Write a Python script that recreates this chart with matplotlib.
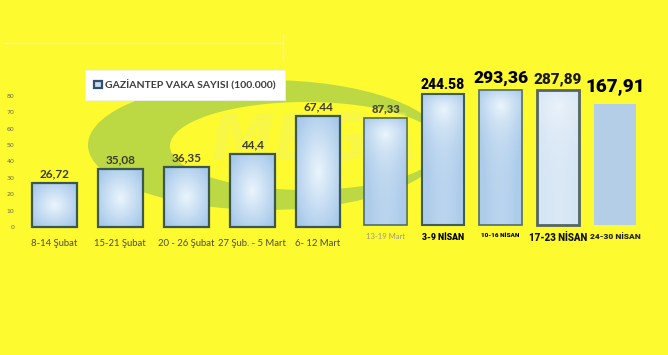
import numpy as np
import matplotlib.pyplot as plt
from matplotlib.patches import Ellipse
from matplotlib.lines import Line2D
from matplotlib import font_manager

# left part: the original excel chart (0-80 scale)
weeks_a = ['8-14 Şubat', '15-21 Şubat', '20 - 26 Şubat', '27 Şub. - 5 Mart', '6- 12 Mart']
cases_a = [26.72, 35.08, 36.35, 44.4, 67.44]
yticks_a = [0, 10, 20, 30, 40, 50, 60, 70, 80]

# right part: columns pasted on afterwards
weeks_b = ['13-19 Mart', '3-9 NİSAN', '10-16 NİSAN', '17-23 NİSAN', '24-30 NİSAN']
cases_b = [87.33, 244.58, 293.36, 287.89, 167.91]
sep_b = [',', '.', ',', ',', ',']

legend_label = 'GAZİANTEP VAKA SAYISI (100.000)'

YELLOW = '#fefa30'


def have(name):
    try:
        font_manager.findfont(name, fallback_to_default=False)
        return True
    except Exception:
        return False


heavy = 'Roboto' if have('Roboto') else 'DejaVu Sans'
body = 'Lato' if have('Lato') else 'DejaVu Sans'


def fmt(v, sep=','):
    return ('%g' % v).replace('.', sep)


def gradient_fill(ax, bars, c_mid, c_edge, z=2.5):
    yy, xx = np.mgrid[-1:1:60j, -1:1:40j]
    r = np.clip(np.sqrt(xx**2 + yy**2) / 1.25, 0, 1)[..., None]
    img = np.array(c_mid)[None, None, :] * (1 - r) + np.array(c_edge)[None, None, :] * r
    for b in bars:
        x0, y0 = b.get_xy()
        im = ax.imshow(img, extent=[x0, x0 + b.get_width(), y0, y0 + b.get_height()],
                       aspect='auto', zorder=z, interpolation='bilinear')
        im.set_clip_path(b)


fig = plt.figure(figsize=(6.68, 3.55), dpi=100)
fig.set_facecolor(YELLOW)

# watermark swoosh + faded logo text
W, H = 668., 355.
def fx(px): return px / W
def fy(py): return 1 - py / H

outer = Ellipse((fx(266), fy(145)), fx(356), 130 / H, facecolor='#bcd944', edgecolor='none',
                transform=fig.transFigure, zorder=0)
inner = Ellipse((fx(306), fy(146)), fx(272), 88 / H, facecolor=YELLOW, edgecolor='none',
                transform=fig.transFigure, zorder=0.1)
fig.add_artist(outer)
fig.add_artist(inner)
fig.text(fx(315), fy(142), 'MEGA', fontsize=46, fontweight='bold', fontstyle='italic',
         color='#f2f468', alpha=0.4, ha='center', va='center', zorder=0.2)

# faint border of the pasted excel screenshot
fig.add_artist(Line2D([fx(5), fx(282)], [fy(43), fy(43)], color='#f4f49a', lw=1,
                      transform=fig.transFigure, zorder=0.3))
fig.add_artist(Line2D([fx(283), fx(283)], [fy(34), fy(60)], color='#f4f49a', lw=1,
                      transform=fig.transFigure, zorder=0.3))

# ---- left axes
ax1 = fig.add_axes([21.5 / W, 1 - 227 / H, 329.5 / W, 131.3 / H])
ax1.set_zorder(2)
ax1.patch.set_alpha(0)
xa = np.arange(len(cases_a))
bars_a = ax1.bar(xa, cases_a, width=0.68, facecolor='none', edgecolor='#3a5850',
                 linewidth=1.6, zorder=3, clip_on=False, label=legend_label)
gradient_fill(ax1, bars_a, (0.92, 0.96, 0.99), (0.66, 0.79, 0.92))
for x, v in zip(xa, cases_a):
    ax1.annotate(fmt(v), (x, v), xytext=(0, 3), textcoords='offset points', ha='center',
                 va='bottom', fontsize=8.5, fontweight='bold', color='#3c3c2a', family=body)
ax1.set_xlim(-0.5, len(cases_a) - 0.5)
ax1.set_ylim(0, 80)
ax1.set_yticks(yticks_a)
ax1.set_yticklabels([str(t) for t in yticks_a], fontsize=4.5, color='#6a6a50')
ax1.set_xticks(xa)
ax1.set_xticklabels(weeks_a, fontsize=6.8, color='#4c4c3a', family=body)
ax1.tick_params(length=0)
ax1.tick_params(axis='x', pad=9)
ax1.tick_params(axis='y', pad=5)
for s in ax1.spines.values():
    s.set_visible(False)

leg = ax1.legend(loc='center', bbox_to_anchor=(fx(185), fy(85)), bbox_transform=fig.transFigure,
                 fancybox=False, framealpha=1, edgecolor='#eeeeee', handlelength=0.7,
                 handleheight=0.7, handletextpad=0.3, borderpad=0.9,
                 prop={'family': body, 'size': 7.5, 'weight': 'bold'})
leg.get_frame().set_linewidth(0.6)
for t in leg.get_texts():
    t.set_color('#3c3c3c')
leg.legend_handles[0].set_facecolor('#c8dcf0')
leg.legend_handles[0].set_edgecolor('#33506a')

# ---- right axes (pasted columns, their own compressed scale)
ax2 = fig.add_axes([357 / W, 1 - 227 / H, 287.2 / W, 187 / H])
ax2.set_zorder(2)
ax2.patch.set_alpha(0)
ax2.set_yscale('log')
xb = np.arange(len(cases_b))
edge_b = ['#4f6c6c', '#3f5c5c', '#4f6c6c', '#556565', 'none']
lw_b = [1.2, 1.5, 1.2, 2.0, 0]
bars_b = ax2.bar(xb, cases_b, bottom=1, width=0.74, facecolor='none', edgecolor=edge_b,
                 linewidth=lw_b, zorder=3, clip_on=False)
gradient_fill(ax2, list(bars_b)[:3], (0.92, 0.96, 0.99), (0.68, 0.80, 0.92))
gradient_fill(ax2, [bars_b[3]], (0.92, 0.95, 0.98), (0.84, 0.90, 0.96))
gradient_fill(ax2, [bars_b[4]], (0.71, 0.81, 0.91), (0.71, 0.81, 0.91))

lab_size = [8, 10, 12.5, 11, 13.5]
lab_color = ['#4a4a38', 'black', 'black', '#1a1a1a', 'black']
lab_font = [body, heavy, heavy, heavy, heavy]
lab_off = [3, 2, 3, 3, 6]
for i, (x, v) in enumerate(zip(xb, cases_b)):
    ax2.annotate(fmt(v, sep_b[i]), (x, v), xytext=(0, lab_off[i]), textcoords='offset points',
                 ha='center', va='bottom', fontsize=lab_size[i], fontweight='heavy',
                 color=lab_color[i], family=lab_font[i])
ax2.set_xlim(-0.5, len(cases_b) - 0.5)
ax2.set_ylim(0.92, 2400)
ax2.set_yticks([])
ax2.minorticks_off()
ax2.set_xticks(xb)
ax2.set_xticklabels(weeks_b)
tick_size = [5.5, 6.2, 4.6, 7.0, 6.0]
tick_color = ['#9a9a80', 'black', 'black', '#111111', '#222222']
tick_weight = ['normal', 'heavy', 'heavy', 'heavy', 'heavy']
for i, t in enumerate(ax2.get_xticklabels()):
    t.set_fontsize(tick_size[i])
    t.set_color(tick_color[i])
    t.set_fontweight(tick_weight[i])
    t.set_family(heavy if i > 0 else body)
ax2.tick_params(length=0, pad=4)
for s in ax2.spines.values():
    s.set_visible(False)

fig.savefig('out.png', dpi=100, facecolor=YELLOW)
